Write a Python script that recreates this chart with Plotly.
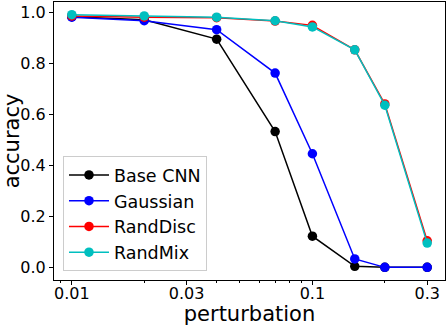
import plotly.graph_objects as go
import numpy as np

perturbation = [0.01, 0.02, 0.04, 0.07, 0.1, 0.15, 0.2, 0.3]

base_cnn = [0.982, 0.970, 0.894, 0.532, 0.122, 0.004, 0.0, 0.0]
gaussian = [0.980, 0.966, 0.931, 0.761, 0.445, 0.033, 0.0, 0.0]
rand_disc = [0.985, 0.980, 0.978, 0.965, 0.948, 0.852, 0.640, 0.104]
rand_mix = [0.990, 0.985, 0.980, 0.966, 0.942, 0.852, 0.635, 0.095]

x_ticks = [0.01, 0.03, 0.1, 0.3]
x_tick_labels = ["0.01", "0.03", "0.1", "0.3"]
x_minor = [0.009, 0.02, 0.04, 0.05, 0.06, 0.07, 0.08, 0.09, 0.2]
y_ticks = [0.0, 0.2, 0.4, 0.6, 0.8, 1.0]

series = [
    ("Base CNN", base_cnn, "black"),
    ("Gaussian", gaussian, "#0000ff"),
    ("RandDisc", rand_disc, "#ff0000"),
    ("RandMix", rand_mix, "#00bfbf"),
]

fig = go.Figure()
for nome, valores, cor in series:
    fig.add_trace(go.Scatter(
        x=perturbation, y=valores, mode="lines+markers", name=nome,
        line=dict(color=cor, width=1.5),
        marker=dict(color=cor, size=9.5),
    ))

eixo = dict(
    showline=True, linecolor="black", linewidth=1, mirror=True,
    ticks="outside", ticklen=4, tickcolor="black", showgrid=False, zeroline=False,
    tickfont=dict(family="DejaVu Sans", size=16, color="black"),
)

fig.update_layout(
    width=446, height=326,
    margin=dict(l=54, r=1, t=2, b=46),
    plot_bgcolor="white", paper_bgcolor="white",
    font=dict(family="DejaVu Sans", color="black"),
    xaxis=dict(
        type="log", range=[np.log10(0.01) - 0.074, np.log10(0.3) + 0.074],
        tickvals=x_ticks, ticktext=x_tick_labels, ticklabelstandoff=-5,
        minor=dict(tickvals=x_minor, ticks="outside", ticklen=2, tickcolor="black"),
        title=dict(text="perturbation", font=dict(size=21), standoff=6),
        **eixo
    ),
    yaxis=dict(
        range=[-0.0495, 1.0395], tickvals=y_ticks, tickformat=".1f",
        title=dict(text="accuracy", font=dict(size=21), standoff=2),
        **eixo
    ),
    legend=dict(
        x=0.023, y=0.032, xanchor="left", yanchor="bottom",
        bgcolor="rgba(255,255,255,0.8)", bordercolor="#cccccc", borderwidth=1,
        font=dict(size=17.5), itemwidth=40, tracegroupgap=4,
    ),
)

# a página vem com margem de 8px no body; zera para alinhar com a imagem
fig.write_html("out.html", config={"displayModeBar": False},
               post_script="document.body.style.margin='0';")
